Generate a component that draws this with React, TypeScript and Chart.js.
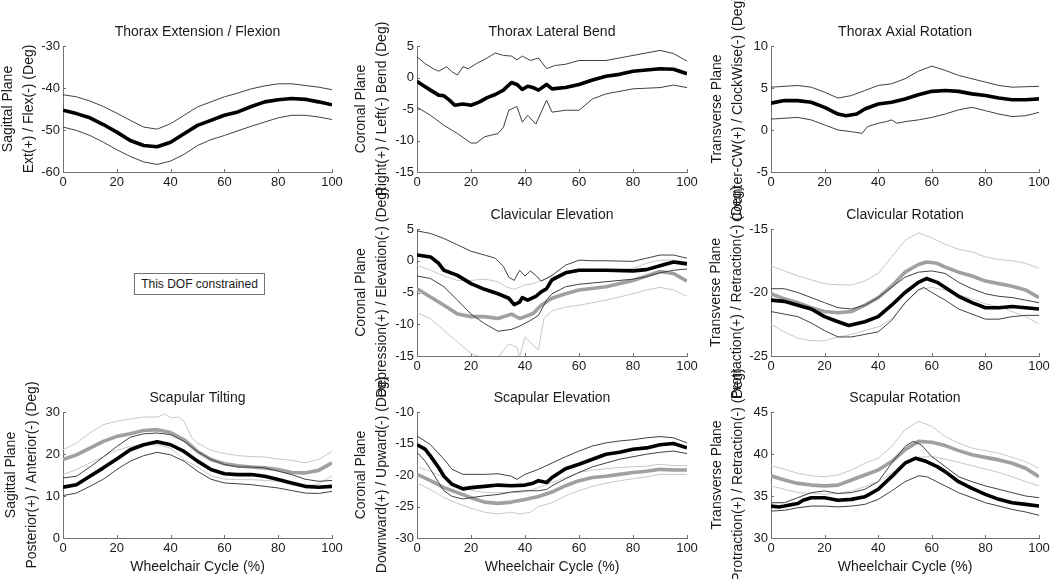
import React, { useEffect, useRef } from 'react';
import { Chart, registerables } from 'chart.js';

Chart.register(...registerables);

const FONT = '"Liberation Sans", Arial, Helvetica, sans-serif';
const CW = 1070;
const CH = 579;
const SHIFT = 20;
const LABEL_LH = 21;

// ---------- shared x sampling (Wheelchair Cycle %) ----------
const CYCLE = [0, 5, 10, 15, 20, 25, 30, 35, 40, 45, 50, 55, 60, 65, 70, 75, 80, 85, 90, 95, 100];
const X_TICK_STEP = 20;

// ---------- Thorax Extension / Flexion ----------
const tefMean = [-45.3, -46.1, -47.1, -48.7, -50.5, -52.5, -53.7, -54.0, -52.9, -50.9, -48.9, -47.7, -46.5, -45.7, -44.4, -43.3, -42.8, -42.5, -42.7, -43.3, -44.0];
const tefUpper = [-41.6, -42.1, -43.1, -44.4, -46.0, -47.7, -49.3, -49.8, -48.5, -46.5, -44.5, -43.3, -42.1, -41.2, -40.2, -39.5, -39.0, -39.0, -39.4, -39.8, -40.4];
const tefLower = [-49.3, -50.1, -51.3, -52.9, -54.7, -56.3, -57.6, -58.2, -57.4, -55.8, -53.7, -52.3, -51.3, -50.2, -49.1, -48.1, -47.1, -46.5, -46.5, -46.9, -47.5];

// ---------- Thorax Lateral Bend ----------
const tlbMeanX = [0, 2, 5, 8, 10, 12, 14, 17, 20, 23, 26, 29, 32, 35, 37, 39, 41, 43, 45, 48, 50, 55, 60, 65, 70, 75, 80, 85, 90, 95, 100];
const tlbMean = [-0.6, -1.2, -2.0, -2.8, -2.9, -3.6, -4.4, -4.2, -4.4, -3.9, -3.2, -2.7, -2.0, -0.8, -1.1, -1.9, -1.4, -1.6, -2.0, -1.1, -1.8, -1.6, -1.1, -0.4, 0.2, 0.5, 1.0, 1.2, 1.4, 1.3, 0.6];
const tlbUpperX = [0, 3, 6, 8, 11, 13, 15, 17, 19, 22, 26, 29, 32, 35, 37, 39, 42, 45, 48, 51, 55, 60, 70, 80, 90, 95, 100];
const tlbUpper = [3.3, 2.2, 1.4, 1.0, 1.7, 0.9, 0.4, 1.7, 1.4, 2.2, 3.1, 3.9, 3.5, 3.4, 2.8, 3.4, 2.7, 3.1, 1.4, 1.9, 2.1, 2.7, 2.7, 3.5, 4.3, 3.8, 2.6];
const tlbLowerX = [0, 5, 10, 15, 20, 22, 25, 30, 32, 34, 37, 39, 41, 44, 48, 50, 55, 60, 65, 70, 80, 90, 95, 100];
const tlbLower = [-4.7, -6.0, -7.6, -8.9, -10.4, -10.4, -9.4, -8.9, -7.9, -5.2, -4.6, -7.1, -6.0, -7.4, -3.6, -5.5, -5.2, -5.2, -3.4, -2.6, -1.8, -1.6, -1.2, -1.6];

// ---------- Thorax Axial Rotation ----------
const tarMeanX = [0, 5, 10, 15, 20, 25, 28, 32, 35, 40, 45, 50, 55, 60, 65, 70, 75, 80, 85, 90, 95, 100];
const tarMean = [3.2, 3.5, 3.5, 3.3, 2.7, 1.9, 1.7, 1.9, 2.5, 3.1, 3.3, 3.7, 4.2, 4.6, 4.7, 4.6, 4.3, 4.1, 3.8, 3.6, 3.6, 3.7];
const tarUpperX = [0, 10, 15, 20, 25, 30, 35, 40, 45, 50, 55, 60, 65, 70, 75, 80, 85, 90, 100];
const tarUpper = [5.1, 5.3, 5.1, 4.5, 3.8, 4.1, 4.7, 5.3, 5.5, 6.1, 7.0, 7.6, 7.1, 6.5, 6.1, 5.7, 5.3, 5.1, 5.2];
const tarLowerX = [0, 10, 15, 20, 25, 30, 34, 36, 40, 43, 45, 47, 50, 55, 60, 65, 70, 75, 80, 85, 90, 95, 100];
const tarLower = [1.3, 1.5, 1.2, 0.6, 0.0, -0.2, -0.4, 0.4, 0.8, 1.0, 1.2, 0.8, 1.0, 1.2, 1.5, 1.9, 2.4, 2.7, 2.3, 1.9, 1.6, 1.7, 2.1];

// ---------- Clavicular Elevation ----------
const ceMeanX = [0, 5, 8, 10, 15, 20, 25, 30, 34, 36, 38, 39, 41, 44, 46, 48, 50, 55, 60, 70, 80, 85, 90, 95, 100];
const ceMean = [0.9, 0.6, -0.4, -1.5, -2.3, -3.6, -4.5, -5.2, -5.9, -6.9, -6.5, -5.8, -6.2, -5.6, -4.9, -4.4, -3.0, -1.9, -1.5, -1.5, -1.6, -1.4, -0.8, -0.2, -0.5];
const ceUpperX = [0, 5, 10, 15, 20, 25, 29, 32, 34, 36, 38, 40, 42, 44, 46, 50, 55, 60, 65, 70, 80, 85, 90, 95, 100];
const ceUpper = [4.7, 4.3, 3.5, 2.5, 1.5, 0.9, 0.4, -0.9, -2.6, -3.1, -1.5, -2.4, -1.6, -2.3, -3.2, -2.3, -0.7, 0.1, 0.0, 0.0, -0.1, 0.4, 0.9, 0.9, 0.4];
const ceLowerX = [0, 5, 10, 15, 20, 25, 30, 35, 38, 42, 45, 48, 50, 55, 60, 70, 80, 85, 90, 95, 100];
const ceLower = [-2.4, -2.8, -4.1, -6.2, -8.4, -9.9, -11.1, -10.8, -10.3, -9.4, -8.6, -6.2, -5.2, -4.1, -3.7, -3.3, -2.9, -2.5, -1.9, -1.5, -1.3];
const ceMean2X = [0, 5, 10, 15, 20, 25, 30, 35, 38, 40, 43, 46, 50, 55, 60, 70, 80, 85, 90, 95, 100];
const ceMean2 = [-4.4, -5.7, -7.0, -8.4, -8.8, -8.8, -9.1, -8.4, -9.1, -8.8, -8.3, -7.0, -5.9, -5.2, -4.6, -4.1, -3.1, -2.4, -1.7, -2.0, -3.2];
const ceUpper2X = [0, 5, 10, 15, 20, 25, 30, 33, 36, 40, 43, 46, 50, 55, 60, 70, 80, 85, 90, 95, 100];
const ceUpper2 = [-0.7, -1.5, -2.4, -3.1, -3.1, -2.9, -3.3, -4.1, -4.5, -3.8, -3.6, -3.1, -2.5, -2.0, -1.7, -1.7, -1.2, -0.4, 0.1, 0.1, -0.2];
const ceLower2X = [0, 5, 10, 15, 20, 25, 30, 34, 37, 38, 40, 43, 45, 47, 50, 55, 60, 70, 80, 85, 90, 95, 100];
const ceLower2 = [-8.2, -9.1, -11.0, -12.8, -14.6, -15.4, -15.2, -13.1, -13.6, -15.2, -12.0, -13.3, -14.0, -9.1, -7.9, -7.3, -7.0, -6.2, -5.2, -4.6, -4.2, -4.6, -5.6];

// ---------- Clavicular Rotation ----------
const crMeanX = [0, 5, 10, 15, 20, 25, 29, 35, 40, 45, 50, 55, 58, 62, 65, 70, 75, 80, 85, 90, 95, 100];
const crMean = [-20.6, -20.7, -21.0, -21.3, -21.9, -22.3, -22.6, -22.3, -21.9, -21.0, -20.0, -19.2, -18.9, -19.2, -19.6, -20.3, -20.8, -21.2, -21.2, -21.1, -21.2, -21.3];
const crUpper = [-19.7, -19.7, -20.0, -20.4, -20.8, -21.2, -21.3, -21.0, -20.4, -19.6, -18.8, -18.4, -18.3, -18.5, -19.2, -19.7, -20.1, -20.3, -20.4, -20.6, -20.8];
const crLowerX = [0, 5, 10, 15, 20, 25, 30, 35, 40, 45, 50, 55, 57, 60, 65, 70, 75, 80, 85, 90, 95, 100];
const crLower = [-21.5, -21.7, -21.9, -22.4, -23.0, -23.5, -23.5, -23.3, -23.1, -22.2, -20.8, -19.8, -19.6, -20.0, -20.6, -21.3, -21.7, -22.1, -22.1, -21.9, -21.8, -21.8];
const crMean2X = [0, 5, 10, 15, 20, 25, 30, 35, 40, 45, 50, 55, 58, 62, 65, 70, 75, 80, 85, 90, 95, 100];
const crMean2 = [-20.1, -20.5, -20.8, -21.2, -21.5, -21.6, -21.5, -21.0, -20.4, -19.5, -18.4, -17.8, -17.6, -17.7, -18.0, -18.4, -18.7, -19.1, -19.3, -19.5, -19.8, -20.4];
const crUpper2 = [-17.9, -18.3, -18.7, -19.0, -19.3, -19.4, -19.4, -19.1, -18.5, -17.2, -15.9, -15.3, -15.7, -16.2, -16.6, -16.8, -17.2, -17.4, -17.5, -17.7, -18.1];
const crLower2 = [-22.5, -23.1, -23.6, -23.8, -23.8, -23.5, -23.3, -23.0, -22.7, -22.1, -20.9, -19.8, -19.6, -19.8, -20.2, -20.5, -20.9, -21.1, -21.5, -21.9, -22.5];

// ---------- Scapular Tilting ----------
const stMean = [12.1, 12.7, 14.7, 16.7, 18.8, 21.0, 22.2, 22.9, 22.2, 20.6, 18.3, 16.3, 15.3, 15.1, 15.1, 14.7, 13.9, 13.1, 12.3, 12.1, 12.3];
const stUpper = [14.3, 14.7, 16.9, 19.3, 21.8, 24.0, 24.8, 25.0, 24.6, 23.0, 20.6, 18.7, 17.5, 16.9, 16.9, 16.7, 15.9, 15.1, 14.0, 13.5, 13.7];
const stLower = [10.1, 10.7, 12.3, 14.0, 16.3, 18.3, 19.6, 20.4, 19.8, 18.3, 15.9, 14.0, 13.1, 12.9, 12.7, 12.3, 11.9, 11.3, 10.7, 10.6, 11.1];
const stMean2 = [18.7, 19.8, 21.4, 23.0, 24.2, 24.8, 25.6, 25.8, 25.1, 23.4, 20.6, 18.7, 17.7, 17.2, 16.9, 16.7, 16.3, 15.6, 15.5, 16.1, 17.9];
const stUpper2X = [0, 5, 10, 15, 20, 25, 30, 35, 38, 40, 43, 45, 48, 50, 55, 60, 65, 70, 75, 80, 85, 90, 95, 100];
const stUpper2 = [21.0, 22.6, 25.0, 27.0, 27.8, 28.3, 28.8, 28.8, 29.5, 28.6, 28.8, 27.8, 23.8, 22.6, 20.9, 20.1, 19.6, 19.4, 19.3, 18.8, 18.5, 17.9, 18.7, 20.6];
const stLower2 = [15.1, 16.3, 17.9, 19.4, 20.9, 21.8, 22.2, 22.2, 21.4, 18.7, 16.9, 14.8, 14.0, 13.9, 13.9, 13.7, 13.5, 12.7, 12.3, 12.9, 14.8];

// ---------- Scapular Elevation ----------
const seMeanX = [0, 3, 5, 8, 10, 13, 17, 20, 25, 30, 35, 40, 43, 45, 48, 50, 55, 60, 65, 70, 75, 80, 85, 90, 95, 100];
const seMean = [-15.2, -15.9, -17.0, -18.8, -20.2, -21.5, -22.2, -22.0, -21.8, -21.6, -21.7, -21.6, -21.3, -20.9, -21.2, -20.4, -19.0, -18.3, -17.5, -16.7, -16.4, -15.9, -15.7, -15.2, -15.0, -15.7];
const seUpperX = [0, 5, 10, 13, 17, 20, 25, 30, 35, 37, 40, 45, 50, 55, 60, 65, 70, 75, 80, 85, 90, 95, 100];
const seUpper = [-13.8, -15.2, -17.5, -19.1, -19.9, -19.9, -19.9, -19.8, -20.2, -20.7, -19.9, -19.1, -18.1, -17.1, -16.2, -15.4, -14.9, -14.6, -14.4, -14.1, -13.9, -14.1, -14.9];
const seLowerX = [0, 3, 5, 8, 10, 13, 17, 20, 25, 30, 35, 40, 45, 48, 50, 55, 60, 65, 70, 75, 80, 85, 90, 95, 100];
const seLower = [-16.4, -17.8, -19.1, -21.2, -22.5, -23.4, -23.8, -23.6, -23.3, -23.1, -22.7, -22.5, -22.5, -22.3, -21.7, -20.6, -19.6, -18.7, -18.1, -17.5, -17.1, -16.7, -16.4, -16.2, -16.6];
const seMean2 = [-19.9, -20.9, -22.0, -22.8, -23.6, -24.3, -24.5, -24.3, -23.9, -23.4, -22.7, -21.7, -20.9, -20.4, -20.2, -19.9, -19.6, -19.4, -19.1, -19.2, -19.2];
const seUpper2 = [-18.7, -19.4, -20.4, -21.6, -22.4, -22.8, -22.8, -22.8, -22.7, -22.0, -21.2, -20.4, -19.6, -19.2, -19.0, -18.8, -18.7, -18.6, -18.3, -18.5, -18.5];
const seLower2X = [0, 5, 10, 15, 20, 25, 30, 35, 38, 42, 45, 50, 55, 60, 65, 70, 75, 80, 85, 90, 95, 100];
const seLower2 = [-21.3, -22.3, -23.6, -24.5, -25.3, -25.9, -26.2, -25.9, -26.2, -25.9, -25.0, -24.4, -23.3, -22.5, -21.8, -21.3, -20.9, -20.6, -20.3, -19.9, -19.9, -19.9];

// ---------- Scapular Rotation ----------
const srMeanX = [0, 3, 5, 10, 12, 15, 20, 25, 30, 35, 40, 45, 50, 54, 58, 62, 65, 70, 75, 80, 85, 90, 95, 100];
const srMean = [33.8, 33.7, 33.8, 34.1, 34.5, 34.8, 34.8, 34.5, 34.6, 34.9, 35.8, 37.3, 38.9, 39.5, 39.1, 38.5, 37.9, 36.7, 35.9, 35.2, 34.6, 34.2, 34.0, 33.8];
const srUpperX = [0, 5, 10, 15, 20, 25, 30, 35, 40, 45, 50, 53, 56, 60, 65, 70, 75, 80, 85, 90, 95, 100];
const srUpper = [34.2, 34.2, 34.8, 35.4, 35.6, 35.3, 35.4, 35.8, 36.7, 38.9, 40.9, 41.5, 41.1, 39.7, 38.5, 37.3, 36.7, 36.2, 35.8, 35.4, 35.0, 34.8];
const srLowerX = [0, 5, 10, 15, 20, 25, 30, 35, 40, 45, 50, 55, 58, 60, 65, 70, 75, 80, 85, 90, 95, 100];
const srLower = [33.2, 33.3, 33.6, 33.8, 33.8, 33.7, 33.8, 34.0, 34.6, 35.6, 36.7, 37.4, 37.3, 37.0, 36.2, 35.4, 34.8, 34.2, 33.8, 33.4, 33.1, 32.7];
const srMean2 = [37.4, 36.9, 36.5, 36.3, 36.2, 36.3, 36.9, 37.5, 38.1, 39.1, 40.5, 41.5, 41.4, 41.0, 40.4, 39.9, 39.6, 39.3, 38.9, 38.3, 37.3];
const srUpper2 = [38.6, 38.2, 37.7, 37.4, 37.3, 37.5, 38.1, 38.9, 39.5, 40.9, 42.9, 43.9, 43.3, 42.1, 41.3, 40.7, 40.4, 40.1, 39.6, 39.1, 38.3];
const srLower2 = [36.2, 35.8, 35.4, 35.3, 35.2, 35.3, 35.6, 36.1, 36.7, 37.7, 39.1, 39.6, 39.7, 39.4, 39.0, 38.6, 38.2, 37.8, 37.3, 36.7, 36.2];

// ---------- styles ----------
type Role = 'mean1' | 'sd1' | 'mean2' | 'sd2';
const ROLE_STYLE: Record<Role, { color: string; width: number }> = {
  mean1: { color: '#000000', width: 3.6 },
  sd1: { color: '#404040', width: 1 },
  mean2: { color: '#a0a0a0', width: 3.6 },
  sd2: { color: '#c8c8c8', width: 1 },
};
const ROLE_ORDER: Role[] = ['mean1', 'sd1', 'mean2', 'sd2'];

type Series = { x: number[]; y: number[]; role: Role };
type Panel = {
  title: string;
  plane: string;
  axisLabel: string;
  box: [number, number, number, number]; // left, top, right, bottom of plot area (page px)
  labelX: number; // page x of first y-label line centre
  yMin: number;
  yMax: number;
  yStep: number;
  xTitle: boolean;
  series: Series[];
};

const COL_X: [number, number][] = [[63, 332], [417, 687], [771, 1039]];
const ROW_Y: [number, number][] = [[46, 172], [229, 356], [412, 538]];
const box = (c: number, r: number): [number, number, number, number] => [COL_X[c][0], ROW_Y[r][0], COL_X[c][1], ROW_Y[r][1]];

const PANELS: Panel[] = [
  {
    title: 'Thorax Extension / Flexion', plane: 'Sagittal Plane', axisLabel: 'Ext(+) / Flex(-) (Deg)',
    box: box(0, 0), labelX: 8, yMin: -60, yMax: -30, yStep: 10, xTitle: false,
    series: [
      { x: CYCLE, y: tefMean, role: 'mean1' },
      { x: CYCLE, y: tefUpper, role: 'sd1' },
      { x: CYCLE, y: tefLower, role: 'sd1' },
    ],
  },
  {
    title: 'Thorax Lateral Bend', plane: 'Coronal Plane', axisLabel: 'Right(+) / Left(-) Bend (Deg)',
    box: box(1, 0), labelX: 361, yMin: -15, yMax: 5, yStep: 5, xTitle: false,
    series: [
      { x: tlbMeanX, y: tlbMean, role: 'mean1' },
      { x: tlbUpperX, y: tlbUpper, role: 'sd1' },
      { x: tlbLowerX, y: tlbLower, role: 'sd1' },
    ],
  },
  {
    title: 'Thorax Axial Rotation', plane: 'Transverse Plane', axisLabel: 'Counter-CW(+) / ClockWise(-) (Deg)',
    box: box(2, 0), labelX: 717, yMin: -5, yMax: 10, yStep: 5, xTitle: false,
    series: [
      { x: tarMeanX, y: tarMean, role: 'mean1' },
      { x: tarUpperX, y: tarUpper, role: 'sd1' },
      { x: tarLowerX, y: tarLower, role: 'sd1' },
    ],
  },
  {
    title: 'Clavicular Elevation', plane: 'Coronal Plane', axisLabel: 'Depression(+) / Elevation(-) (Deg)',
    box: box(1, 1), labelX: 361, yMin: -15, yMax: 5, yStep: 5, xTitle: false,
    series: [
      { x: ceMeanX, y: ceMean, role: 'mean1' },
      { x: ceUpperX, y: ceUpper, role: 'sd1' },
      { x: ceLowerX, y: ceLower, role: 'sd1' },
      { x: ceMean2X, y: ceMean2, role: 'mean2' },
      { x: ceUpper2X, y: ceUpper2, role: 'sd2' },
      { x: ceLower2X, y: ceLower2, role: 'sd2' },
    ],
  },
  {
    title: 'Clavicular Rotation', plane: 'Transverse Plane', axisLabel: 'Protraction(+) / Retraction(-) (Deg)',
    box: box(2, 1), labelX: 716, yMin: -25, yMax: -15, yStep: 5, xTitle: false,
    series: [
      { x: crMeanX, y: crMean, role: 'mean1' },
      { x: CYCLE, y: crUpper, role: 'sd1' },
      { x: crLowerX, y: crLower, role: 'sd1' },
      { x: crMean2X, y: crMean2, role: 'mean2' },
      { x: CYCLE, y: crUpper2, role: 'sd2' },
      { x: CYCLE, y: crLower2, role: 'sd2' },
    ],
  },
  {
    title: 'Scapular Tilting', plane: 'Sagittal Plane', axisLabel: 'Posterior(+) / Anterior(-) (Deg)',
    box: box(0, 2), labelX: 11, yMin: 0, yMax: 30, yStep: 10, xTitle: true,
    series: [
      { x: CYCLE, y: stMean, role: 'mean1' },
      { x: CYCLE, y: stUpper, role: 'sd1' },
      { x: CYCLE, y: stLower, role: 'sd1' },
      { x: CYCLE, y: stMean2, role: 'mean2' },
      { x: stUpper2X, y: stUpper2, role: 'sd2' },
      { x: CYCLE, y: stLower2, role: 'sd2' },
    ],
  },
  {
    title: 'Scapular Elevation', plane: 'Coronal Plane', axisLabel: 'Downward(+) / Upward(-) (Deg)',
    box: box(1, 2), labelX: 361, yMin: -30, yMax: -10, yStep: 5, xTitle: true,
    series: [
      { x: seMeanX, y: seMean, role: 'mean1' },
      { x: seUpperX, y: seUpper, role: 'sd1' },
      { x: seLowerX, y: seLower, role: 'sd1' },
      { x: CYCLE, y: seMean2, role: 'mean2' },
      { x: CYCLE, y: seUpper2, role: 'sd2' },
      { x: seLower2X, y: seLower2, role: 'sd2' },
    ],
  },
  {
    title: 'Scapular Rotation', plane: 'Transverse Plane', axisLabel: 'Protraction(+) / Retraction(-) (Deg)',
    box: box(2, 2), labelX: 717, yMin: 30, yMax: 45, yStep: 5, xTitle: true,
    series: [
      { x: srMeanX, y: srMean, role: 'mean1' },
      { x: srUpperX, y: srUpper, role: 'sd1' },
      { x: srLowerX, y: srLower, role: 'sd1' },
      { x: CYCLE, y: srMean2, role: 'mean2' },
      { x: CYCLE, y: srUpper2, role: 'sd2' },
      { x: CYCLE, y: srLower2, role: 'sd2' },
    ],
  },
];

const TEXT_COLOR = '#1a1a1a';
const AXIS_COLOR = '#707070';

const decorPlugin = {
  id: 'panelDecor',
  beforeDatasetsDraw(chart: any, _args: any, opts: any) {
    const { ctx, chartArea, scales } = chart;
    ctx.save();
    ctx.strokeStyle = AXIS_COLOR;
    ctx.lineWidth = 1;
    scales.x.ticks.forEach((t: any) => {
      const px = Math.round(scales.x.getPixelForValue(t.value)) + 0.5;
      ctx.beginPath();
      ctx.moveTo(px, chartArea.bottom);
      ctx.lineTo(px, chartArea.bottom - 3);
      ctx.stroke();
    });
    scales.y.ticks.forEach((t: any) => {
      const py = Math.round(scales.y.getPixelForValue(t.value)) + 0.5;
      ctx.beginPath();
      ctx.moveTo(chartArea.left, py);
      ctx.lineTo(chartArea.left + 3, py);
      ctx.stroke();
    });
    ctx.restore();
  },
  afterDraw(chart: any, _args: any, opts: any) {
    const { ctx, chartArea } = chart;
    ctx.save();
    ctx.fillStyle = TEXT_COLOR;
    ctx.font = `14px ${FONT}`;
    ctx.textAlign = 'center';
    ctx.textBaseline = 'alphabetic';
    ctx.fillText(opts.title || '', (chartArea.left + chartArea.right) / 2, chartArea.top - 10);
    ctx.restore();
  },
};

function PanelChart({ panel }: { panel: Panel }) {
  const ref = useRef<HTMLCanvasElement | null>(null);
  useEffect(() => {
    if (!ref.current) return;
    const [l, t, r, b] = panel.box;
    const padLeft = panel.labelX + SHIFT - LABEL_LH / 2;
    const yW = l + SHIFT - padLeft;
    const xH = panel.xTitle ? 38 : 20;
    const padBottom = CH - b - xH;
    const sorted = ROLE_ORDER.flatMap((role) => panel.series.filter((s) => s.role === role));
    const datasets = sorted.map((s) => ({
      data: s.x.map((x, i) => ({ x, y: s.y[i] })),
      borderColor: ROLE_STYLE[s.role].color,
      borderWidth: ROLE_STYLE[s.role].width,
      pointRadius: 0,
      tension: 0,
      fill: false,
      borderJoinStyle: 'round' as const,
      borderCapStyle: 'butt' as const,
    }));
    const chart = new Chart(ref.current, {
      type: 'line',
      data: { datasets },
      plugins: [decorPlugin],
      options: {
        responsive: false,
        animation: false,
        devicePixelRatio: 1,
        events: [],
        layout: { padding: { left: padLeft, right: CW - (r + SHIFT), top: t, bottom: padBottom } },
        plugins: {
          legend: { display: false },
          tooltip: { enabled: false },
          title: { display: false },
          panelDecor: { title: panel.title },
        } as any,
        scales: {
          x: {
            type: 'linear',
            min: 0,
            max: 100,
            ticks: {
              stepSize: X_TICK_STEP,
              font: { family: FONT, size: 13 },
              color: TEXT_COLOR,
              padding: 3,
              maxRotation: 0,
              autoSkip: false,
            },
            grid: { display: true, drawOnChartArea: false, drawTicks: false },
            border: { display: true, color: AXIS_COLOR, width: 1 },
            title: {
              display: panel.xTitle,
              text: 'Wheelchair Cycle (%)',
              font: { family: FONT, size: 14 },
              color: TEXT_COLOR,
              padding: 0,
            },
            afterFit: (s: any) => {
              s.height = xH;
              s.paddingLeft = 0;
              s.paddingRight = 0;
            },
          },
          y: {
            type: 'linear',
            min: panel.yMin,
            max: panel.yMax,
            ticks: {
              stepSize: panel.yStep,
              font: { family: FONT, size: 13 },
              color: TEXT_COLOR,
              padding: 3,
              autoSkip: false,
            },
            grid: { display: true, drawOnChartArea: false, drawTicks: false },
            border: { display: true, color: AXIS_COLOR, width: 1 },
            title: {
              display: true,
              text: [panel.plane, panel.axisLabel],
              font: { family: FONT, size: 14, lineHeight: LABEL_LH / 14 },
              color: TEXT_COLOR,
              padding: 0,
            },
            afterFit: (s: any) => {
              s.width = yW;
              s.paddingTop = 0;
              s.paddingBottom = 0;
            },
          },
        } as any,
      },
    });
    return () => chart.destroy();
  }, [panel]);
  return (
    <canvas
      ref={ref}
      width={CW}
      height={CH}
      style={{ position: 'absolute', left: 0, top: 0, width: CW, height: CH }}
    />
  );
}

export default function App() {
  return (
    <div style={{ position: 'fixed', left: -SHIFT, top: 0, width: CW, height: CH, background: '#fff' }}>
      {PANELS.map((p) => (
        <PanelChart key={p.title} panel={p} />
      ))}
      <div
        style={{
          position: 'absolute',
          left: 134 + SHIFT,
          top: 273,
          width: 131,
          height: 22,
          boxSizing: 'border-box',
          border: `1px solid ${AXIS_COLOR}`,
          fontFamily: FONT,
          fontSize: 12,
          color: TEXT_COLOR,
          display: 'flex',
          alignItems: 'center',
          justifyContent: 'center',
          background: '#fff',
        }}
      >
        This DOF constrained
      </div>
    </div>
  );
}
